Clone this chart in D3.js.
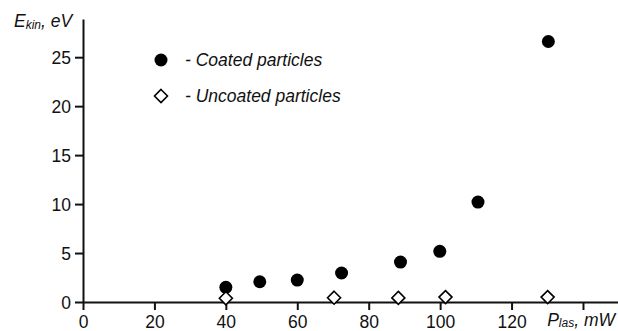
<!DOCTYPE html>
<html><head><meta charset="utf-8">
<script src="https://cdn.jsdelivr.net/npm/d3@7"></script>
<style>
html,body{margin:0;padding:0;background:#fff;}
text{font-family:"Liberation Sans",Arial,sans-serif;fill:#111;}
</style></head>
<body><svg id="c" width="618" height="331"></svg>
<script>
const coatedX = [40, 49.5, 60, 72.4, 88.9, 99.9, 110.6, 130.3];
const coatedY = [1.5, 2.07, 2.24, 2.96, 4.08, 5.17, 10.2, 26.6];
const uncoatedX = [40, 70.3, 88.3, 101.5, 130.1];
const uncoatedY = [0.38, 0.44, 0.42, 0.5, 0.5];
const xTicks = [0, 20, 40, 60, 80, 100, 120, 140];
const yTicks = [0, 5, 10, 15, 20, 25];
const legendLabels = ["- Coated particles", "- Uncoated particles"];

const svg = d3.select("#c");
const x = d3.scaleLinear().domain([0, 150]).range([83, 618.7]);
const y = d3.scaleLinear().domain([0, 28.9]).range([302, 19]);

const xa = svg.append("g").attr("transform", "translate(0,302)")
  .call(d3.axisBottom(x).tickValues(xTicks).tickSize(8).tickSizeOuter(0)
    .tickFormat(d => d === 140 ? "" : d));
const ya = svg.append("g").attr("transform", "translate(83,0)")
  .call(d3.axisLeft(y).tickValues(yTicks).tickSize(8).tickSizeOuter(0));
[xa, ya].forEach(a => {
  a.select(".domain").attr("stroke", "#111").attr("stroke-width", 2);
  a.selectAll(".tick line").attr("stroke", "#111").attr("stroke-width", 2);
  a.selectAll(".tick text").attr("font-size", 17.5).attr("font-family", "Liberation Sans, Arial, sans-serif").attr("fill", "#222");
});
xa.selectAll(".tick text").attr("dy", null).attr("y", 26);
ya.selectAll(".tick text").attr("x", -12).attr("dy", "0.36em");

// axis titles
const yt = svg.append("text").attr("x", 14).attr("y", 27).attr("font-size", 17.5).attr("font-style", "italic");
yt.append("tspan").text("E");
yt.append("tspan").attr("font-size", 12).attr("dy", 2).text("kin");
yt.append("tspan").attr("dy", -2).text(", eV");

const xt = svg.append("text").attr("x", 615).attr("y", 325.5).attr("text-anchor", "end").attr("font-size", 17.5).attr("font-style", "italic");
xt.append("tspan").text("P");
xt.append("tspan").attr("font-size", 12).attr("dy", 1).text("las");
xt.append("tspan").attr("dy", -1).text(", mW");

// data
svg.append("g").selectAll("circle").data(coatedX.map((d, i) => [d, coatedY[i]])).join("circle")
  .attr("cx", d => x(d[0])).attr("cy", d => y(d[1])).attr("r", 6.5).attr("fill", "#000");

const diamond = (cx, cy, r) => `M${cx},${cy - r}L${cx + r},${cy}L${cx},${cy + r}L${cx - r},${cy}Z`;
svg.append("g").selectAll("path").data(uncoatedX.map((d, i) => [d, uncoatedY[i]])).join("path")
  .attr("d", d => diamond(x(d[0]), y(d[1]), 6.5)).attr("fill", "#fff").attr("stroke", "#000").attr("stroke-width", 1.6);

// legend
svg.append("circle").attr("cx", 161).attr("cy", 60).attr("r", 6.5).attr("fill", "#000");
svg.append("path").attr("d", diamond(161, 96, 6.5)).attr("fill", "#fff").attr("stroke", "#000").attr("stroke-width", 1.6);
svg.append("text").attr("x", 185).attr("y", 66).attr("font-size", 17.5).attr("font-style", "italic").text(legendLabels[0]);
svg.append("text").attr("x", 185).attr("y", 102).attr("font-size", 17.5).attr("font-style", "italic").text(legendLabels[1]);
</script></body></html>
